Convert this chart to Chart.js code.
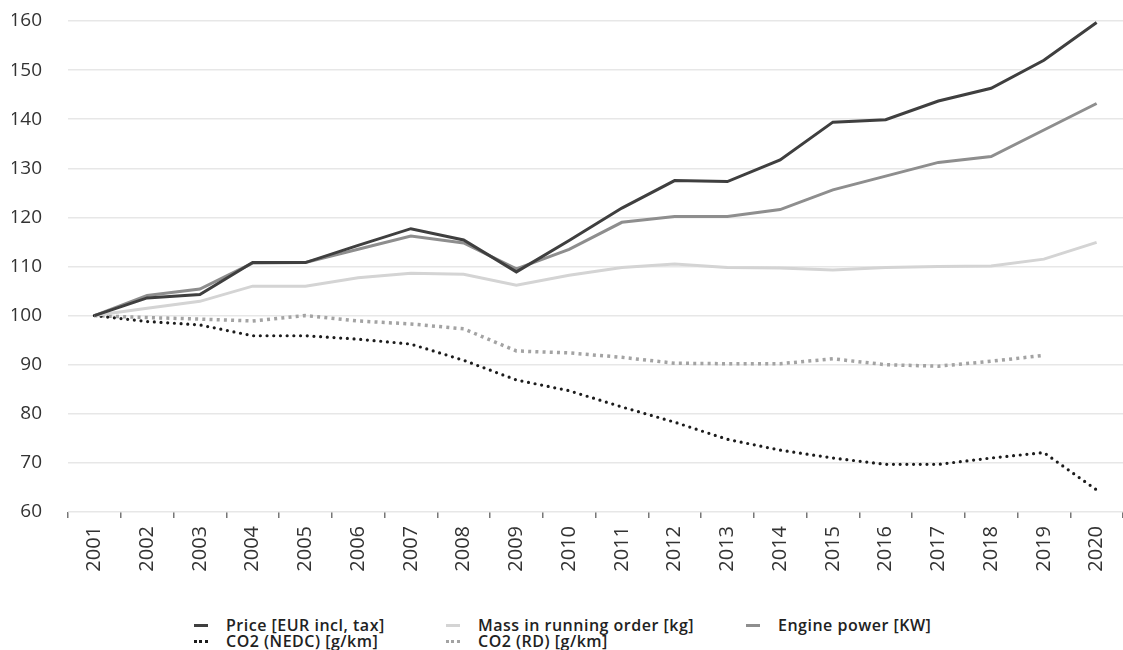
<!DOCTYPE html>
<html>
<head>
<meta charset="utf-8">
<script src="https://cdn.jsdelivr.net/npm/chart.js@4/dist/chart.umd.min.js"></script>
<style>
    html, body { margin: 0; padding: 0; background: #fff; }
    #wrap { position: relative; width: 1123px; height: 650px; }
    #chart-box { position: absolute; left: 0; top: 0; width: 1123px; height: 573px; }
    #legend { position: absolute; left: 194px; top: 617px; font-family: "Open Sans", sans-serif; font-size: 16px; font-weight: 600; letter-spacing: 0.5px; color: #222; }
    .row { display: flex; height: 16px; line-height: 16px; }
    .item { display: flex; align-items: center; }
    .item.c1 { width: 252px; }
    .item.c2 { width: 300px; }
    .swatch { width: 14px; height: 0; margin-right: 18px; border-top: 3px solid #000; }
</style>
</head>
<body>
<div id="wrap">
    <div id="chart-box"><canvas id="trend-chart"></canvas></div>
    <div id="legend"></div>
</div>
<script>
// Index values, 2001 = 100
const years = ['2001', '2002', '2003', '2004', '2005', '2006', '2007', '2008', '2009', '2010',
    '2011', '2012', '2013', '2014', '2015', '2016', '2017', '2018', '2019', '2020'];

const price = [100, 103.6, 104.3, 110.8, 110.8, 114.3, 117.7, 115.4, 108.9, 115.3,
    121.9, 127.5, 127.3, 131.7, 139.4, 139.9, 143.7, 146.3, 152.0, 159.7];
const mass = [100, 101.5, 102.9, 106.0, 106.0, 107.7, 108.6, 108.4, 106.2, 108.2,
    109.8, 110.5, 109.8, 109.7, 109.3, 109.8, 110.0, 110.1, 111.5, 114.9];
const enginePower = [100, 104.1, 105.4, 110.7, 110.8, 113.5, 116.2, 114.8, 109.5, 113.5,
    119.0, 120.2, 120.2, 121.6, 125.6, 128.4, 131.2, 132.4, 137.8, 143.2];
const co2Nedc = [100, 98.8, 98.1, 95.9, 95.9, 95.2, 94.2, 90.9, 86.9, 84.7,
    81.4, 78.3, 74.8, 72.6, 71.0, 69.7, 69.7, 71.0, 72.1, 64.5];
const co2Rd = [100, 99.6, 99.3, 98.9, 100, 98.9, 98.3, 97.3, 92.8, 92.4,
    91.5, 90.3, 90.2, 90.2, 91.2, 90.0, 89.7, 90.7, 91.9, null];

const yTicks = [60, 70, 80, 90, 100, 110, 120, 130, 140, 150, 160];

const FONT = '"Open Sans", sans-serif';

let trendChart = null;

document.addEventListener('DOMContentLoaded', function() {
    initializeTrendChart();
    buildLegend();
});

function lineSet(label, data, color, extra) {
    return Object.assign({
        label: label,
        data: data,
        borderColor: color,
        backgroundColor: color,
        borderWidth: 3,
        pointRadius: 0,
        pointHoverRadius: 0,
        tension: 0,
        fill: false,
        spanGaps: false
    }, extra || {});
}

// fixed axis sizes so the plot area sits where the original has it
function fixYAxis(axis) {
    axis.width = 56;
    axis.paddingTop = 0;
    axis.paddingBottom = 0;
}

function fixXAxis(axis) {
    axis.height = 61;
    axis.paddingLeft = 0;
    axis.paddingRight = 0;
}

function initializeTrendChart() {
    const ctx = document.getElementById('trend-chart');

    trendChart = new Chart(ctx, {
        type: 'line',
        data: {
            labels: years,
            datasets: [
                lineSet('Price [EUR incl, tax]', price, '#3f3f3f'),
                lineSet('Engine power [KW]', enginePower, '#8e8e8e'),
                lineSet('Mass in running order [kg]', mass, '#d4d4d4'),
                lineSet('CO2 (NEDC) [g/km]', co2Nedc, '#1c1c1c', {
                    borderDash: [0, 6.7],
                    borderCapStyle: 'round',
                    borderWidth: 3.2
                }),
                lineSet('CO2 (RD) [g/km]', co2Rd, '#a3a3a3', {
                    borderDash: [3, 4.2],
                    borderCapStyle: 'butt',
                    borderWidth: 3.5
                })
            ]
        },
        options: {
            responsive: true,
            maintainAspectRatio: false,
            animation: false,
            layout: {
                padding: { top: 21, left: 12, right: 0, bottom: 0 }
            },
            scales: {
                x: {
                    type: 'category',
                    offset: true,
                    afterFit: fixXAxis,
                    border: { display: false },
                    grid: {
                        offset: true,
                        drawOnChartArea: false,
                        drawTicks: true,
                        tickLength: 6,
                        color: '#777',
                        lineWidth: 1.5
                    },
                    ticks: {
                        maxRotation: 90,
                        minRotation: 90,
                        autoSkip: false,
                        padding: 8,
                        color: '#333',
                        font: { family: FONT, size: 20 }
                    }
                },
                y: {
                    min: yTicks[0],
                    max: yTicks[yTicks.length - 1],
                    afterBuildTicks: function(axis) {
                        axis.ticks = yTicks.map(v => ({ value: v }));
                    },
                    afterFit: fixYAxis,
                    border: { display: false },
                    grid: {
                        drawTicks: false,
                        color: '#e7e7e7',
                        lineWidth: 1.5
                    },
                    ticks: {
                        padding: 26,
                        color: '#333',
                        font: { family: FONT, size: 19 }
                    }
                }
            },
            plugins: {
                legend: { display: false },
                tooltip: { enabled: false }
            }
        }
    });
}

// HTML legend, laid out in the same fixed columns as the original
function buildLegend() {
    const order = [
        ['Price [EUR incl, tax]', 'Mass in running order [kg]', 'Engine power [KW]'],
        ['CO2 (NEDC) [g/km]', 'CO2 (RD) [g/km]']
    ];
    const legend = document.getElementById('legend');

    order.forEach(names => {
        const row = document.createElement('div');
        row.className = 'row';
        names.forEach((name, i) => {
            const ds = trendChart.data.datasets.find(d => d.label === name);
            const item = document.createElement('div');
            item.className = 'item c' + (i + 1);
            const swatch = document.createElement('span');
            swatch.className = 'swatch';
            swatch.style.borderTopColor = ds.borderColor;
            if (ds.borderDash) {
                swatch.style.borderTopStyle = 'dotted';
            }
            const text = document.createElement('span');
            text.textContent = name;
            item.appendChild(swatch);
            item.appendChild(text);
            row.appendChild(item);
        });
        legend.appendChild(row);
    });
}
</script>
</body>
</html>
